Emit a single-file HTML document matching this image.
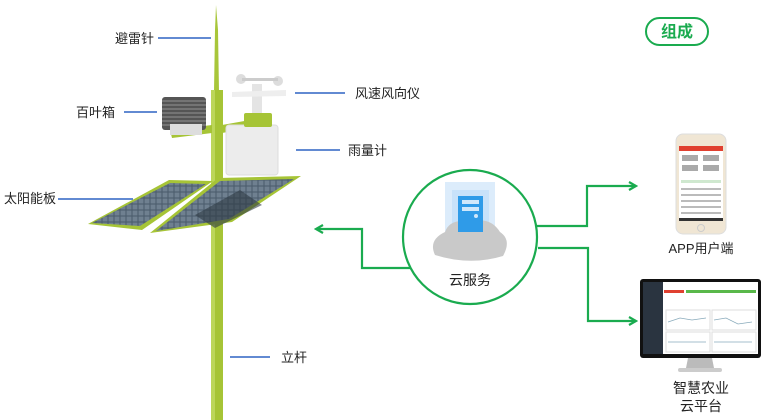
<!DOCTYPE html>
<html><head><meta charset="utf-8"><style>
body{margin:0;background:#fff;}
svg{display:block;font-family:"Liberation Sans","Noto Sans CJK SC",sans-serif;}
</style></head><body>
<svg width="784" height="420" viewBox="0 0 784 420" xmlns="http://www.w3.org/2000/svg">
<defs>
<pattern id="cells" width="6" height="6" patternUnits="userSpaceOnUse">
<rect width="6" height="6" fill="#4a5a6a"/><rect x="0.5" y="0.5" width="5" height="5" fill="#6f8090"/>
</pattern>
<marker id="ah" markerWidth="10" markerHeight="10" refX="8" refY="5" orient="auto" markerUnits="userSpaceOnUse">
<path d="M1,1 L8,5 L1,9" fill="none" stroke="#1aab4f" stroke-width="2.2"/>
</marker>
</defs>
<!-- lightning rod -->
<polygon points="216,5 218,30 219,92 214,92 215,30" fill="#a8c63a"/>
<!-- pole -->
<rect x="211" y="90" width="12" height="330" fill="#a6c436"/>
<rect x="211" y="90" width="4" height="330" fill="#bcd65a"/>
<!-- arms -->
<polygon points="170,130 212,125 212,133 172,138" fill="#a6c436"/>
<polygon points="222,125 250,120 250,128 222,133" fill="#a6c436"/>
<!-- louver box -->
<rect x="162" y="97" width="44" height="33" rx="3" fill="#555"/>
<g stroke="#aaa" stroke-width="0.8">
<line x1="162" y1="101" x2="206" y2="101"/><line x1="162" y1="105" x2="206" y2="105"/><line x1="162" y1="109" x2="206" y2="109"/><line x1="162" y1="113" x2="206" y2="113"/><line x1="162" y1="117" x2="206" y2="117"/><line x1="162" y1="121" x2="206" y2="121"/><line x1="162" y1="125" x2="206" y2="125"/></g>
<rect x="170" y="124" width="32" height="11" fill="#ddd"/>
<!-- wind meter -->
<rect x="252" y="84" width="10" height="30" fill="#e4e4e4"/>
<polygon points="232,92 286,90 286,96 232,97" fill="#eee"/>
<circle cx="241" cy="79" r="5" fill="#ddd"/><circle cx="278" cy="81" r="5" fill="#ddd"/>
<rect x="242" y="78" width="36" height="3" fill="#ccc"/>
<!-- rain gauge -->
<rect x="226" y="125" width="52" height="50" rx="3" fill="#ececec"/>
<rect x="226" y="125" width="52" height="50" rx="3" fill="none" stroke="#ddd"/>
<rect x="244" y="113" width="28" height="14" rx="2" fill="#a6c436"/>
<!-- solar panels -->
<polygon points="88,224 169,180 213,181 142,230" fill="#a6c436"/>
<polygon points="92,223 170,183 206,184 140,226" fill="url(#cells)"/>
<polygon points="150,233 218,178 301,176 232,222" fill="#a6c436"/>
<polygon points="156,231 220,181 294,179 229,219" fill="url(#cells)"/>
<polygon points="195,215 240,190 262,205 215,228" fill="#2f3a44" opacity="0.6"/>
<!-- labels station -->
<g font-size="13" fill="#222">
<text x="115" y="43">避雷针</text>
<text x="76" y="117">百叶箱</text>
<text x="355" y="98">风速风向仪</text>
<text x="348" y="155">雨量计</text>
<text x="4" y="203">太阳能板</text>
<text x="281" y="362">立杆</text>
</g>
<g stroke="#2f63c4" stroke-width="1.6">
<line x1="158" y1="38" x2="211" y2="38"/>
<line x1="124" y1="112" x2="157" y2="112"/>
<line x1="295" y1="93" x2="345" y2="93"/>
<line x1="296" y1="150" x2="340" y2="150"/>
<line x1="58" y1="199" x2="133" y2="199"/>
<line x1="230" y1="357" x2="270" y2="357"/>
</g>
<!-- 组成 -->
<rect x="646" y="18" width="62" height="27" rx="13.5" fill="#fff" stroke="#1aab4f" stroke-width="2"/>
<text x="677" y="37" font-size="16" font-weight="bold" fill="#1aab4f" text-anchor="middle">组成</text>
<!-- connectors -->
<g fill="none" stroke="#1aab4f" stroke-width="2.2">
<polyline points="410,268 362,268 362,229 316,229" marker-end="url(#ah)"/>
<polyline points="537,226 587,226 587,186 636,186" marker-end="url(#ah)"/>
<polyline points="538,248 588,248 588,321 636,321" marker-end="url(#ah)"/>
<circle cx="470" cy="237" r="67"/>
</g>
<!-- server -->
<rect x="445" y="182" width="50" height="55" fill="#dcecfb"/>
<rect x="452" y="190" width="37" height="43" fill="#c8e2fa"/>
<path d="M435,255 Q428,240 445,232 Q450,218 470,222 Q490,216 500,232 Q512,240 503,256 Q470,266 435,255Z" fill="#c9c9c9"/>
<rect x="458" y="196" width="25" height="36" fill="#2f9be8"/>
<rect x="462" y="200" width="17" height="4" fill="#cfe8fb"/>
<rect x="462" y="207" width="17" height="4" fill="#cfe8fb"/>
<circle cx="476" cy="216" r="2" fill="#cfe8fb"/>
<text x="470" y="285" font-size="14" fill="#222" text-anchor="middle">云服务</text>
<!-- phone -->
<rect x="676" y="134" width="50" height="100" rx="7" fill="#f0e6d4" stroke="#ddd"/>
<rect x="679" y="146" width="44" height="75" fill="#fff"/>
<rect x="679" y="146" width="44" height="5" fill="#e04030"/>
<g fill="#aaa"><rect x="682" y="155" width="16" height="6"/><rect x="703" y="155" width="16" height="6"/><rect x="682" y="165" width="16" height="6"/><rect x="703" y="165" width="16" height="6"/></g>
<g fill="#cfe8cf"><rect x="681" y="180" width="40" height="3"/></g>
<g fill="#bbb"><rect x="681" y="188" width="40" height="2"/><rect x="681" y="194" width="40" height="2"/><rect x="681" y="200" width="40" height="2"/><rect x="681" y="206" width="40" height="2"/><rect x="681" y="212" width="40" height="2"/></g>
<rect x="679" y="218" width="44" height="3" fill="#333"/>
<circle cx="701" cy="228" r="3.5" fill="none" stroke="#ccc"/>
<text x="701" y="253" font-size="13" fill="#222" text-anchor="middle">APP用户端</text>
<!-- monitor -->
<rect x="640" y="279" width="121" height="79" rx="3" fill="#111"/>
<rect x="643" y="282" width="115" height="72" fill="#fff"/>
<rect x="643" y="282" width="20" height="72" fill="#2a3440"/>
<rect x="664" y="290" width="20" height="3" fill="#e04030"/>
<rect x="686" y="290" width="70" height="3" fill="#59b84a"/>
<g fill="none" stroke="#ddd"><rect x="666" y="310" width="44" height="20"/><rect x="712" y="310" width="44" height="20"/><rect x="666" y="332" width="44" height="20"/><rect x="712" y="332" width="44" height="20"/></g>
<g fill="none" stroke="#8ab" stroke-width="0.7"><polyline points="668,322 680,318 692,320 706,318"/><polyline points="714,320 726,318 738,324 752,322"/><polyline points="668,342 706,342"/><polyline points="714,342 752,342"/></g>
<path d="M688,358 L712,358 L714,368 L686,368Z" fill="#bbb"/>
<rect x="678" y="368" width="44" height="4" rx="2" fill="#ccc"/>
<text x="701" y="393" font-size="14" fill="#222" text-anchor="middle">智慧农业</text>
<text x="701" y="411" font-size="14" fill="#222" text-anchor="middle">云平台</text>
</svg>
</body></html>
